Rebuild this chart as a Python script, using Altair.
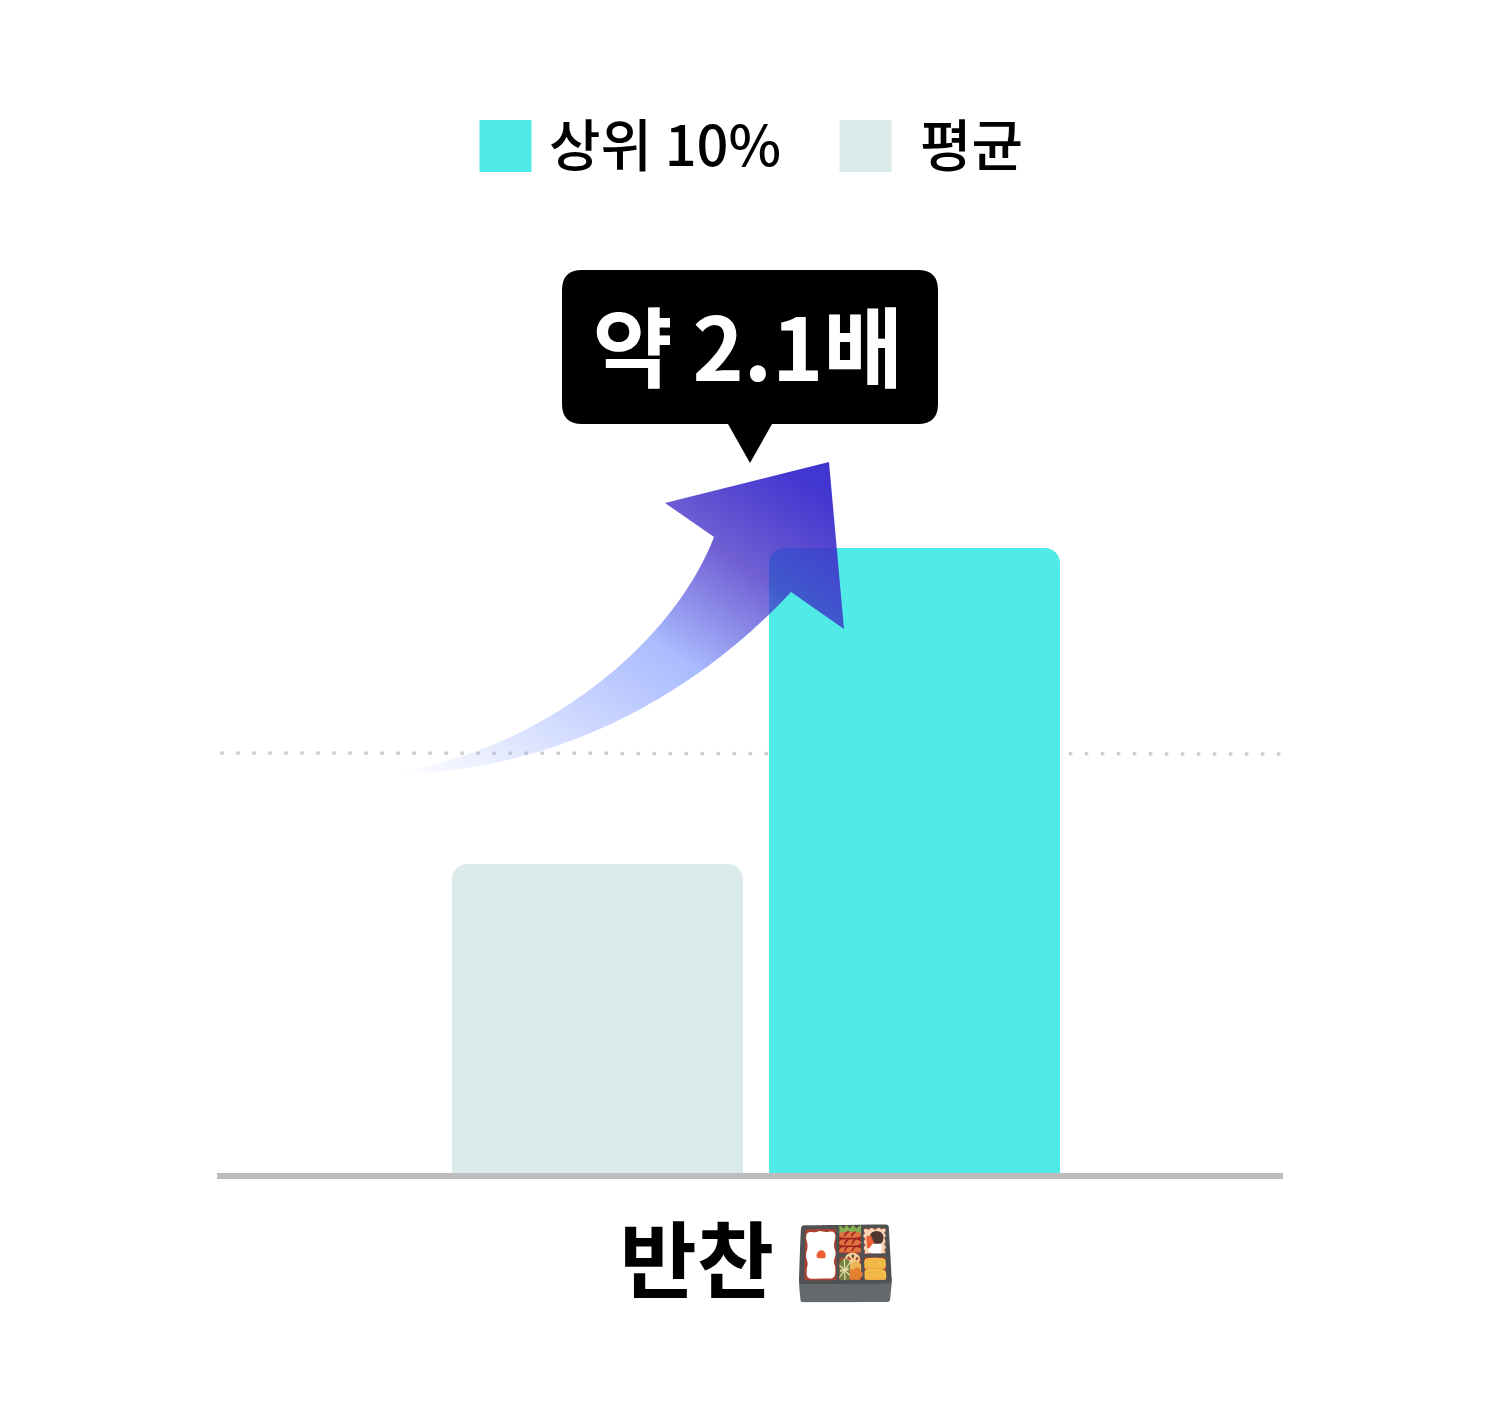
import altair as alt
import pandas as pd

categories = ["평균", "상위 10%"]
values = [310, 626]
legend_order = ["상위 10%", "평균"]
colors = ["#50EBE6", "#DBEAEA"]
reference_level = [421]
reference_level_end = [420]
baseline = [0]
callout_text = ["약 2.1배"]
axis_title = "반찬 🍱"

FONT = "Noto Sans CJK KR"
H = 1394
W = 1484

bars_df = pd.DataFrame({"group": categories, "value": values})
y_scale = alt.Scale(domain=[-228, 1166], range=[H, 0], nice=False, zero=False)
x_scale = alt.Scale(domain=categories, range=[444, 1052], paddingInner=26 / 317, paddingOuter=0)
color_scale = alt.Scale(domain=legend_order, range=colors)
y_enc = alt.Y("value:Q", scale=y_scale, axis=None)

grid = (
    alt.Chart(pd.DataFrame({"value": reference_level, "end": reference_level_end}))
    .mark_rule(color="#CFCFCF", strokeWidth=4, strokeDash=[0.01, 16], strokeCap="round")
    .encode(y=y_enc, y2="end:Q", x=alt.value(214), x2=alt.value(1276))
)

bars = (
    alt.Chart(bars_df)
    .mark_bar(cornerRadiusTopLeft=15, cornerRadiusTopRight=15)
    .encode(
        x=alt.X(
            "group:N",
            scale=x_scale,
            sort=categories,
            axis=alt.Axis(
                domain=False, ticks=False, labels=False, grid=False,
                title=axis_title, titleFont=FONT, titleFontSize=84, titleFontWeight=700,
                titleColor="#000000", titleAnchor="start", titleAlign="left", titleBaseline="middle",
                titleX=611, titleY=1266 - 8 - 1394,
            ),
        ),
        y=y_enc,
        color=alt.Color("group:N", scale=color_scale, legend=None),
    )
)

base_rule = (
    alt.Chart(pd.DataFrame({"value": baseline}))
    .mark_rule(color="#BDBDBD", strokeWidth=6)
    .encode(y=alt.Y("value:Q", scale=y_scale, axis=None), x=alt.value(209), x2=alt.value(1275), yOffset=alt.value(2))
)


def legend_item(name, square_x, text_x):
    one = pd.DataFrame({"group": [name]})
    square = (
        alt.Chart(one)
        .mark_square(size=2704, opacity=1, strokeWidth=0)
        .encode(color=alt.Color("group:N", scale=color_scale, legend=None), x=alt.value(square_x), y=alt.value(138))
    )
    label = (
        alt.Chart(one)
        .mark_text(font=FONT, fontSize=56, fontWeight=500, color="#000000", align="left", baseline="middle")
        .encode(text="group:N", x=alt.value(text_x), y=alt.value(141))
    )
    return square + label


legend_a = legend_item(legend_order[0], 497.5, 541)
legend_b = legend_item(legend_order[1], 857.5, 912)

arrow_path = (
    "M829 462 L844 629 L791 592 C680 712 530 775 393 773 "
    "C535 752 670 650 714 537 L665 503 Z"
)
gradient = alt.LinearGradient(
    gradient="linear", x1=0, y1=1, x2=1, y2=0,
    stops=[
        alt.GradientStop(offset=0, color="rgba(142,165,255,0)"),
        alt.GradientStop(offset=0.5, color="rgba(142,165,255,0.75)"),
        alt.GradientStop(offset=0.72, color="rgba(58,35,195,0.72)"),
        alt.GradientStop(offset=0.93, color="rgba(66,54,208,1)"),
        alt.GradientStop(offset=1, color="rgba(66,54,208,1)"),
    ],
)
marker = pd.DataFrame({"value": [0]})
arrow = (
    alt.Chart(marker)
    .mark_point(shape=arrow_path, filled=True, fill=gradient, size=4, opacity=1, strokeWidth=0)
    .encode(x=alt.value(-8), y=alt.value(-8))
)

callout_path = (
    "M582 270 L918 270 Q938 270 938 290 L938 404 Q938 424 918 424 "
    "L772 424 L750 463 L728 424 L582 424 Q562 424 562 404 L562 290 Q562 270 582 270 Z"
)
callout = (
    alt.Chart(marker)
    .mark_point(shape=callout_path, filled=True, fill="#000000", size=4, opacity=1, strokeWidth=0)
    .encode(x=alt.value(-8), y=alt.value(-8))
)
callout_label = (
    alt.Chart(pd.DataFrame({"label": callout_text}))
    .mark_text(font=FONT, fontSize=87, fontWeight=700, color="#FFFFFF", align="center", baseline="middle")
    .encode(text="label:N", x=alt.value(740), y=alt.value(347))
)

chart = (
    alt.layer(grid, bars, base_rule, arrow, callout, callout_label, legend_a, legend_b)
    .properties(width=W, height=H, padding=0, background="#FFFFFF", autosize=alt.AutoSizeParams(type="none"))
    .configure_view(stroke=None)
)
chart.save("out.html", embed_options={"renderer": "svg", "actions": False})
